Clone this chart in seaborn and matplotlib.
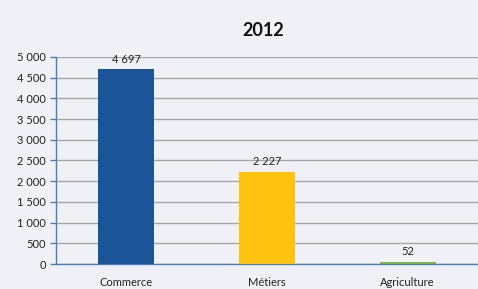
import pandas as pd
import matplotlib.pyplot as plt
import seaborn as sns
from matplotlib.ticker import FixedLocator

# data
categories = ["Commerce", "Métiers", "Agriculture"]
values = [4697, 2227, 52]
bar_colors = ["#1B5497", "#FFC20E", "#7AB648"]
y_ticks = list(range(0, 5001, 500))

df = pd.DataFrame({"categorie": categories, "valeur": values})

sns.set_theme(style="white")
plt.rcParams["font.family"] = ["Lato", "DejaVu Sans"]

bg = "#F0F1F6"
fig = plt.figure(figsize=(4.78, 2.89), dpi=100, facecolor=bg)
ax = fig.add_axes([0.117, 0.0865, 0.883, 0.7165], facecolor=bg)

sns.barplot(data=df, x="categorie", y="valeur", hue="categorie",
            palette=bar_colors, width=0.4, legend=False, ax=ax,
            saturation=1, linewidth=0, zorder=3)

ax.set_ylim(0, 5000)
ax.set_xlim(-0.5, 2.5)
ax.yaxis.set_major_locator(FixedLocator(y_ticks))
ax.set_yticklabels([f"{t:,}".replace(",", " ") for t in y_ticks], fontsize=8, color="#222222")
ax.grid(axis="y", color="#A6A6A6", linewidth=1, zorder=0)
ax.set_axisbelow(True)

# x ticks: labels at centres, tick marks at boundaries
ax.tick_params(axis="x", which="major", length=0, labelsize=8, labelcolor="#222222", pad=9)
ax.xaxis.set_minor_locator(FixedLocator([-0.5, 0.5, 1.5, 2.5]))
ax.tick_params(axis="x", which="minor", length=4, color="#4A7EBB", width=1, direction="out")
ax.tick_params(axis="y", length=4, color="#4A7EBB", width=1, direction="out", left=True, pad=3)

for s in ["top", "right"]:
    ax.spines[s].set_visible(False)
for s in ["left", "bottom"]:
    ax.spines[s].set_color("#4A7EBB")
    ax.spines[s].set_linewidth(1)

ax.set_xlabel("")
ax.set_ylabel("")

for i, v in enumerate(values):
    ax.text(i, v + 120, f"{v:,}".replace(",", " "), ha="center", va="bottom",
            fontsize=8, color="#222222")

fig.text(0.55, 0.895, "2012", ha="center", va="center", fontsize=13, fontweight="bold",
         color="#111111")

plt.savefig("out.png", dpi=100, facecolor=bg)
plt.close()
